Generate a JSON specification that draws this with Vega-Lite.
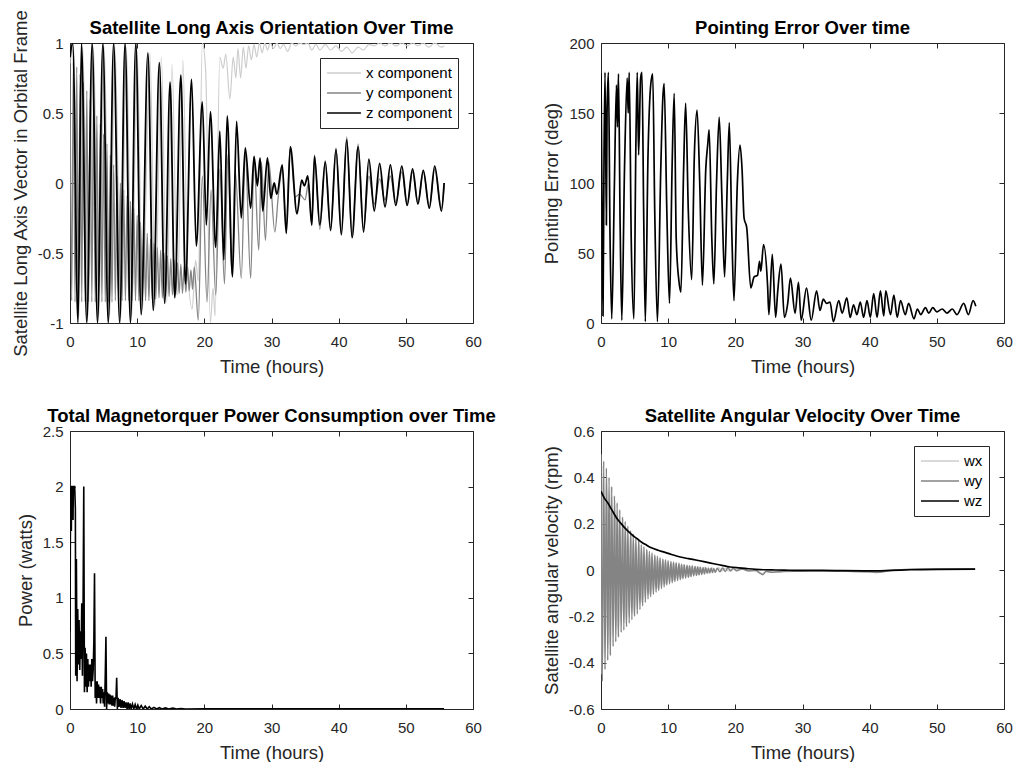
{
"$schema": "https://vega.github.io/schema/vega-lite/v6.json",
"background": "white",
"padding": {"left": 10, "top": 8, "right": 0, "bottom": 0},
"config": {
  "font": "Liberation Sans",
  "view": {"stroke": "#262626", "strokeWidth": 1},
  "axis": {"grid": false, "domain": false, "tickColor": "#262626", "tickSize": -5, "labelColor": "#262626", "labelFontSize": 15, "titleFontSize": 18.5, "titleFontWeight": "normal", "titleColor": "#262626", "labelFlush": false, "labelOverlap": false, "labelExpr": "datum.value < 0 ? '-' + format(-datum.value, '~g') : format(datum.value, '~g')"},
  "axisX": {"labelPadding": 16, "titlePadding": 8},
  "axisY": {"labelPadding": 12, "titlePadding": 7},
  "title": {"fontSize": 18.5, "fontWeight": "bold", "color": "#000000", "offset": -1, "frame": "group"},
  "legend": {"orient": "top-right", "offset": 15, "symbolType": "stroke", "symbolStrokeWidth": 1.5, "labelFontSize": 15, "labelColor": "#000000", "strokeColor": "#262626", "fillColor": "white", "padding": 6, "rowPadding": 2, "clipHeight": 18, "labelOffset": 4}
},
"datasets": {
"tlx": [{"t":0,"v":0.85},{"t":0.55,"v":0.97},{"t":1.35,"v":-0.95},{"t":1.9,"v":0.97},{"t":2.7,"v":-0.95},{"t":3.5,"v":0.97},{"t":4.3,"v":-0.95},{"t":5.1,"v":0.97},{"t":5.9,"v":-0.95},{"t":6.7,"v":0.97},{"t":7.6,"v":-0.95},{"t":8.4,"v":0.97},{"t":9.2,"v":-0.95},{"t":10,"v":0.95},{"t":10.8,"v":-0.9},{"t":11.9,"v":0.93},{"t":12.7,"v":-0.88},{"t":13.6,"v":0.9},{"t":14.4,"v":-0.85},{"t":15.2,"v":0.85},{"t":16,"v":-0.8},{"t":16.8,"v":0.88},{"t":17.5,"v":-0.6},{"t":18.2,"v":-0.9},{"t":18.7,"v":-0.55},{"t":19.1,"v":-0.7},{"t":19.7,"v":1},{"t":20.2,"v":0.8},{"t":20.9,"v":-1},{"t":21.3,"v":-0.75},{"t":21.6,"v":-0.95},{"t":22.3,"v":0.9},{"t":22.8,"v":0.82},{"t":23.2,"v":0.92},{"t":23.8,"v":0.6},{"t":24.3,"v":0.9},{"t":24.7,"v":0.75},{"t":25,"v":0.96},{"t":25.4,"v":0.75},{"t":25.8,"v":0.97},{"t":26.2,"v":0.82},{"t":26.6,"v":0.98},{"t":27,"v":0.88},{"t":27.4,"v":0.99},{"t":27.8,"v":0.9},{"t":28.2,"v":1},{"t":28.6,"v":0.93},{"t":29,"v":1},{"t":29.4,"v":0.95},{"t":29.8,"v":1},{"t":30.3,"v":0.96},{"t":30.8,"v":1},{"t":31.3,"v":0.96},{"t":31.8,"v":0.99},{"t":32.4,"v":0.94},{"t":33,"v":1},{"t":33.6,"v":0.98},{"t":34.2,"v":1},{"t":34.8,"v":0.99},{"t":35.4,"v":1},{"t":36,"v":0.95},{"t":36.6,"v":0.99},{"t":37.2,"v":0.95},{"t":38,"v":0.99},{"t":38.8,"v":0.95},{"t":39.6,"v":0.98},{"t":40.4,"v":0.94},{"t":41.2,"v":0.97},{"t":42,"v":0.93},{"t":42.9,"v":0.97},{"t":43.7,"v":0.95},{"t":44.5,"v":0.99},{"t":45.3,"v":0.98},{"t":46.1,"v":1},{"t":46.9,"v":0.98},{"t":47.7,"v":1},{"t":48.5,"v":0.98},{"t":49.4,"v":1},{"t":50.2,"v":0.98},{"t":51,"v":1},{"t":51.8,"v":0.98},{"t":52.6,"v":1},{"t":53.4,"v":0.97},{"t":54.3,"v":1},{"t":55.3,"v":0.97},{"t":55.7,"v":0.98}],
"tly": [{"t":0,"v":0.88},{"t":0.25,"v":-0.84},{"t":0.5,"v":0.86},{"t":0.75,"v":-0.85},{"t":1,"v":0.83},{"t":1.25,"v":-0.85},{"t":1.5,"v":0.78},{"t":1.75,"v":-0.85},{"t":2,"v":0.72},{"t":2.25,"v":-0.85},{"t":2.5,"v":0.66},{"t":2.75,"v":-0.85},{"t":3,"v":0.6},{"t":3.25,"v":-0.85},{"t":3.5,"v":0.54},{"t":3.75,"v":-0.85},{"t":4,"v":0.48},{"t":4.25,"v":-0.85},{"t":4.5,"v":0.42},{"t":4.75,"v":-0.85},{"t":5,"v":0.35},{"t":5.25,"v":-0.85},{"t":5.5,"v":0.28},{"t":5.75,"v":-0.85},{"t":6,"v":0.2},{"t":6.25,"v":-0.85},{"t":6.5,"v":0.13},{"t":6.75,"v":-0.84},{"t":7,"v":0.05},{"t":7.25,"v":-0.84},{"t":7.5,"v":0},{"t":7.75,"v":-0.84},{"t":8,"v":-0.05},{"t":8.25,"v":-0.84},{"t":8.5,"v":-0.09},{"t":8.75,"v":-0.84},{"t":9,"v":-0.13},{"t":9.25,"v":-0.84},{"t":9.5,"v":-0.18},{"t":9.75,"v":-0.84},{"t":10,"v":-0.23},{"t":10.25,"v":-0.84},{"t":10.5,"v":-0.28},{"t":10.75,"v":-0.84},{"t":11,"v":-0.32},{"t":11.25,"v":-0.84},{"t":11.5,"v":-0.36},{"t":11.75,"v":-0.84},{"t":12,"v":-0.4},{"t":12.25,"v":-0.83},{"t":12.5,"v":-0.43},{"t":12.75,"v":-0.83},{"t":13,"v":-0.46},{"t":13.25,"v":-0.82},{"t":13.5,"v":-0.48},{"t":13.75,"v":-0.82},{"t":14,"v":-0.5},{"t":14.25,"v":-0.81},{"t":14.5,"v":-0.52},{"t":14.75,"v":-0.81},{"t":15,"v":-0.54},{"t":15.25,"v":-0.8},{"t":15.5,"v":-0.55},{"t":15.75,"v":-0.8},{"t":16,"v":-0.57},{"t":16.25,"v":-0.79},{"t":16.5,"v":-0.58},{"t":16.75,"v":-0.79},{"t":17,"v":-0.59},{"t":17.25,"v":-0.78},{"t":17.5,"v":-0.6},{"t":17.75,"v":-0.77},{"t":18,"v":-0.62},{"t":18.25,"v":-0.76},{"t":18.5,"v":-0.6},{"t":19.1,"v":-0.98},{"t":19.7,"v":0.05},{"t":20.4,"v":-0.85},{"t":21,"v":-0.05},{"t":21.7,"v":-0.8},{"t":22.3,"v":0.1},{"t":23,"v":-0.72},{"t":23.5,"v":0.2},{"t":24.1,"v":-0.65},{"t":24.6,"v":0.09},{"t":25.5,"v":-0.68},{"t":26.1,"v":0.2},{"t":26.9,"v":-0.68},{"t":27.4,"v":0.18},{"t":28.1,"v":-0.48},{"t":28.5,"v":0.15},{"t":29.1,"v":-0.41},{"t":29.6,"v":0.15},{"t":30.5,"v":-0.35},{"t":31,"v":-0.1},{"t":31.6,"v":0.1},{"t":32.2,"v":-0.3},{"t":32.8,"v":0.25},{"t":33.5,"v":-0.1},{"t":34.2,"v":-0.08},{"t":35,"v":-0.12},{"t":35.5,"v":0},{"t":36,"v":-0.3},{"t":36.4,"v":0.2},{"t":37.2,"v":-0.33},{"t":38,"v":0.16},{"t":38.8,"v":-0.33},{"t":39.6,"v":0.25},{"t":40.4,"v":-0.36},{"t":41.2,"v":0.33},{"t":42,"v":-0.38},{"t":42.9,"v":0.28},{"t":43.7,"v":-0.33},{"t":44.5,"v":0.05},{"t":45.3,"v":-0.15},{"t":46.1,"v":0.03},{"t":46.9,"v":-0.12},{"t":47.7,"v":0.05},{"t":48.5,"v":-0.14},{"t":49.4,"v":0.08},{"t":50.2,"v":-0.15},{"t":51,"v":0.08},{"t":51.8,"v":-0.14},{"t":52.6,"v":0.08},{"t":53.5,"v":-0.17},{"t":54.3,"v":0.1},{"t":55.3,"v":-0.18},{"t":55.7,"v":-0.02}],
"tlz": [{"t":0,"v":0.9},{"t":0.4,"v":1},{"t":1.2,"v":-1},{"t":1.7,"v":1},{"t":2.5,"v":-1},{"t":3.3,"v":1},{"t":4.1,"v":-1},{"t":4.9,"v":1},{"t":5.7,"v":-1},{"t":6.5,"v":1},{"t":7.4,"v":-1},{"t":8.2,"v":1},{"t":9,"v":-1},{"t":9.8,"v":1},{"t":10.6,"v":-0.94},{"t":11.6,"v":0.93},{"t":12.4,"v":-0.91},{"t":13.3,"v":0.86},{"t":14.1,"v":-0.86},{"t":14.9,"v":0.72},{"t":15.6,"v":-0.82},{"t":16.5,"v":0.77},{"t":17.2,"v":-0.72},{"t":18.1,"v":0.74},{"t":18.8,"v":-0.45},{"t":19.7,"v":0.58},{"t":20.3,"v":-0.3},{"t":20.9,"v":0.51},{"t":21.7,"v":-0.46},{"t":22.3,"v":0.37},{"t":22.9,"v":-0.55},{"t":23.4,"v":0.48},{"t":24.2,"v":-0.67},{"t":24.8,"v":0.44},{"t":25.5,"v":-0.25},{"t":26.1,"v":0.25},{"t":26.9,"v":-0.18},{"t":27.4,"v":0.19},{"t":27.9,"v":-0.02},{"t":28.3,"v":0.18},{"t":28.7,"v":-0.2},{"t":29.4,"v":0.18},{"t":29.9,"v":-0.11},{"t":30.4,"v":0},{"t":30.8,"v":-0.08},{"t":31.6,"v":0.13},{"t":32.2,"v":-0.36},{"t":32.8,"v":0.26},{"t":33.8,"v":-0.22},{"t":34.5,"v":0.02},{"t":34.9,"v":-0.02},{"t":35.4,"v":0.05},{"t":36,"v":-0.3},{"t":36.4,"v":0.19},{"t":37.2,"v":-0.3},{"t":38,"v":0.15},{"t":38.8,"v":-0.34},{"t":39.6,"v":0.24},{"t":40.4,"v":-0.37},{"t":41.2,"v":0.31},{"t":42,"v":-0.39},{"t":42.9,"v":0.26},{"t":43.7,"v":-0.35},{"t":44.5,"v":0.17},{"t":45.3,"v":-0.2},{"t":46.1,"v":0.14},{"t":46.9,"v":-0.17},{"t":47.7,"v":0.13},{"t":48.5,"v":-0.16},{"t":49.4,"v":0.12},{"t":50.2,"v":-0.16},{"t":51,"v":0.1},{"t":51.8,"v":-0.15},{"t":52.6,"v":0.09},{"t":53.5,"v":-0.18},{"t":54.3,"v":0.12},{"t":55.3,"v":-0.2},{"t":55.7,"v":0}],
"tr": [{"t":0,"v":178},{"t":0.2,"v":60},{"t":0.3,"v":5},{"t":0.45,"v":120},{"t":0.6,"v":179},{"t":0.8,"v":70},{"t":0.9,"v":150},{"t":1.1,"v":179},{"t":1.35,"v":60},{"t":1.6,"v":3},{"t":2,"v":100},{"t":2.3,"v":170},{"t":2.45,"v":140},{"t":2.6,"v":178},{"t":2.85,"v":70},{"t":3.1,"v":2},{"t":3.5,"v":110},{"t":3.9,"v":175},{"t":4.05,"v":150},{"t":4.2,"v":179},{"t":4.5,"v":60},{"t":4.9,"v":3},{"t":5.2,"v":130},{"t":5.4,"v":179},{"t":5.6,"v":120},{"t":5.9,"v":175},{"t":6.1,"v":179},{"t":6.35,"v":80},{"t":6.6,"v":1},{"t":7,"v":120},{"t":7.4,"v":170},{"t":7.7,"v":178},{"t":8,"v":80},{"t":8.4,"v":1},{"t":8.9,"v":110},{"t":9.2,"v":160},{"t":9.4,"v":171},{"t":9.8,"v":80},{"t":10.2,"v":14},{"t":10.6,"v":115},{"t":10.9,"v":164},{"t":11.2,"v":60},{"t":11.6,"v":30},{"t":11.9,"v":22},{"t":12.3,"v":110},{"t":12.6,"v":157},{"t":13,"v":80},{"t":13.5,"v":31},{"t":13.9,"v":120},{"t":14.3,"v":152},{"t":14.7,"v":100},{"t":15.1,"v":27},{"t":15.6,"v":110},{"t":15.9,"v":128},{"t":16.1,"v":138},{"t":16.5,"v":60},{"t":16.8,"v":28},{"t":17.2,"v":100},{"t":17.6,"v":147},{"t":18,"v":90},{"t":18.4,"v":33},{"t":18.8,"v":100},{"t":19.1,"v":143},{"t":19.5,"v":60},{"t":19.8,"v":16},{"t":20.3,"v":100},{"t":20.7,"v":127},{"t":21,"v":110},{"t":21.3,"v":75},{"t":21.7,"v":68},{"t":22.3,"v":25},{"t":22.8,"v":33},{"t":23.3,"v":34},{"t":23.6,"v":44},{"t":23.8,"v":37},{"t":24.2,"v":56},{"t":24.8,"v":27},{"t":25,"v":6},{"t":25.5,"v":49},{"t":26,"v":4},{"t":26.3,"v":22},{"t":26.8,"v":42},{"t":27.3,"v":4},{"t":27.8,"v":14},{"t":28.2,"v":32},{"t":28.9,"v":7},{"t":29.4,"v":29},{"t":29.8,"v":2},{"t":30.6,"v":25},{"t":31.3,"v":2},{"t":32.1,"v":23},{"t":32.6,"v":9},{"t":33.1,"v":17},{"t":33.6,"v":14},{"t":34.1,"v":15},{"t":34.6,"v":1},{"t":35.4,"v":16},{"t":35.9,"v":7},{"t":36.6,"v":18},{"t":37.1,"v":4},{"t":37.6,"v":13},{"t":38.1,"v":6},{"t":38.6,"v":15},{"t":39.1,"v":4},{"t":39.6,"v":16},{"t":40.1,"v":4},{"t":40.6,"v":21},{"t":41.1,"v":4},{"t":41.6,"v":23},{"t":42.1,"v":5},{"t":42.4,"v":23},{"t":43.1,"v":6},{"t":43.6,"v":20},{"t":44.1,"v":4},{"t":44.6,"v":16},{"t":45.3,"v":6},{"t":45.8,"v":14},{"t":46.6,"v":3},{"t":47.1,"v":10},{"t":47.6,"v":6},{"t":48.3,"v":11},{"t":48.8,"v":7},{"t":49.4,"v":11},{"t":50,"v":8},{"t":50.8,"v":10},{"t":51.5,"v":7},{"t":52.3,"v":10},{"t":53,"v":6},{"t":54,"v":14},{"t":54.7,"v":6},{"t":55.4,"v":16},{"t":55.8,"v":12}],
"bl": [{"t":0,"v":0.7},{"t":0.05,"v":1.5},{"t":0.1,"v":2},{"t":0.2,"v":1.6},{"t":0.25,"v":2},{"t":0.4,"v":2},{"t":0.45,"v":1.7},{"t":0.5,"v":2},{"t":0.7,"v":2},{"t":0.8,"v":1.8},{"t":0.85,"v":0.3},{"t":0.95,"v":1.35},{"t":1.05,"v":0.25},{"t":1.15,"v":0.9},{"t":1.25,"v":0.4},{"t":1.35,"v":0.8},{"t":1.45,"v":0.35},{"t":1.55,"v":0.7},{"t":1.65,"v":0.45},{"t":1.75,"v":0.95},{"t":1.85,"v":0.3},{"t":1.95,"v":0.95},{"t":2.05,"v":2},{"t":2.15,"v":0.15},{"t":2.25,"v":0.55},{"t":2.35,"v":0.2},{"t":2.45,"v":0.5},{"t":2.55,"v":0.15},{"t":2.65,"v":0.45},{"t":2.75,"v":0.2},{"t":2.85,"v":0.4},{"t":2.95,"v":0.25},{"t":3.05,"v":0.4},{"t":3.15,"v":0.2},{"t":3.25,"v":0.45},{"t":3.35,"v":0.25},{"t":3.45,"v":0.35},{"t":3.55,"v":0.6},{"t":3.65,"v":1.22},{"t":3.75,"v":0.1},{"t":3.85,"v":0.25},{"t":3.95,"v":0.05},{"t":4.05,"v":0.25},{"t":4.15,"v":0.1},{"t":4.25,"v":0.22},{"t":4.35,"v":0.1},{"t":4.45,"v":0.2},{"t":4.55,"v":0.05},{"t":4.65,"v":0.2},{"t":4.75,"v":0.1},{"t":4.85,"v":0.18},{"t":4.95,"v":0.05},{"t":5.05,"v":0.15},{"t":5.15,"v":0.02},{"t":5.25,"v":0.3},{"t":5.35,"v":0.65},{"t":5.45,"v":0},{"t":5.55,"v":0.15},{"t":5.65,"v":0.05},{"t":5.75,"v":0.14},{"t":5.85,"v":0.04},{"t":5.95,"v":0.13},{"t":6.05,"v":0.04},{"t":6.15,"v":0.12},{"t":6.25,"v":0.03},{"t":6.35,"v":0.12},{"t":6.45,"v":0.03},{"t":6.55,"v":0.1},{"t":6.65,"v":0.02},{"t":6.75,"v":0.1},{"t":6.85,"v":0.1},{"t":6.95,"v":0.28},{"t":7.05,"v":0},{"t":7.15,"v":0.1},{"t":7.3,"v":0.02},{"t":7.45,"v":0.09},{"t":7.6,"v":0.01},{"t":7.75,"v":0.08},{"t":7.9,"v":0.01},{"t":8.05,"v":0.07},{"t":8.2,"v":0.01},{"t":8.35,"v":0.06},{"t":8.5,"v":0},{"t":8.65,"v":0.06},{"t":8.8,"v":0},{"t":8.95,"v":0.05},{"t":9.1,"v":0},{"t":9.3,"v":0.045},{"t":9.5,"v":0},{"t":9.7,"v":0.04},{"t":9.9,"v":0},{"t":10.1,"v":0.035},{"t":10.3,"v":0},{"t":10.6,"v":0.03},{"t":10.9,"v":0},{"t":11.2,"v":0.025},{"t":11.5,"v":0},{"t":11.8,"v":0.02},{"t":12.1,"v":0},{"t":12.5,"v":0.015},{"t":12.9,"v":0},{"t":13.3,"v":0.012},{"t":13.7,"v":0},{"t":14.2,"v":0.01},{"t":14.7,"v":0},{"t":15.3,"v":0.008},{"t":15.9,"v":0},{"t":16.5,"v":0.005},{"t":17.2,"v":0},{"t":20,"v":0.002},{"t":30,"v":0.001},{"t":40,"v":0.001},{"t":55.7,"v":0.001}],
"brx": [{"t":0,"v":-0.45},{"t":0.3,"v":0.45},{"t":0.6,"v":-0.4},{"t":0.9,"v":0.4},{"t":1.2,"v":-0.36},{"t":1.5,"v":0.36},{"t":1.8,"v":-0.31},{"t":2.1,"v":0.3},{"t":2.4,"v":-0.28},{"t":2.7,"v":0.26},{"t":3,"v":-0.25},{"t":3.3,"v":0.22},{"t":3.6,"v":-0.23},{"t":3.9,"v":0.18},{"t":4.2,"v":-0.21},{"t":4.5,"v":0.16},{"t":4.8,"v":-0.19},{"t":5.1,"v":0.13},{"t":5.4,"v":-0.17},{"t":5.7,"v":0.12},{"t":6,"v":-0.14},{"t":6.3,"v":0.1},{"t":6.6,"v":-0.12},{"t":6.9,"v":0.085},{"t":7.2,"v":-0.105},{"t":7.5,"v":0.07},{"t":7.8,"v":-0.09},{"t":8.1,"v":0.06},{"t":8.4,"v":-0.08},{"t":8.7,"v":0.05},{"t":9,"v":-0.07},{"t":9.3,"v":0.045},{"t":9.6,"v":-0.06},{"t":9.9,"v":0.04},{"t":10.2,"v":-0.05},{"t":10.5,"v":0.035},{"t":10.8,"v":-0.045},{"t":11.1,"v":0.03},{"t":11.4,"v":-0.04},{"t":11.7,"v":0.027},{"t":12,"v":-0.035},{"t":12.3,"v":0.023},{"t":12.6,"v":-0.03},{"t":12.9,"v":0.02},{"t":13.2,"v":-0.027},{"t":13.5,"v":0.017},{"t":13.8,"v":-0.023},{"t":14.1,"v":0.015},{"t":14.4,"v":-0.02},{"t":14.7,"v":0.013},{"t":15,"v":-0.017},{"t":15.5,"v":0.012},{"t":16,"v":-0.012},{"t":16.5,"v":0.01},{"t":17,"v":-0.008},{"t":17.5,"v":0.01},{"t":18,"v":-0.005},{"t":18.5,"v":0.008},{"t":19,"v":-0.004},{"t":19.5,"v":0.006},{"t":20,"v":0},{"t":21,"v":0.004},{"t":22,"v":-0.002},{"t":23,"v":-0.006},{"t":24,"v":-0.015},{"t":24.5,"v":-0.008},{"t":26,"v":-0.01},{"t":28,"v":-0.004},{"t":30,"v":-0.006},{"t":32,"v":-0.005},{"t":35,"v":-0.006},{"t":38,"v":-0.007},{"t":40,"v":-0.009},{"t":41,"v":-0.012},{"t":42,"v":-0.006},{"t":44,"v":0},{"t":47,"v":0.003},{"t":50,"v":0.004},{"t":55.7,"v":0.004}],
"bry": [{"t":0,"v":0.5},{"t":0.2,"v":-0.48},{"t":0.4,"v":0.47},{"t":0.6,"v":-0.43},{"t":0.8,"v":0.44},{"t":1,"v":-0.39},{"t":1.2,"v":0.4},{"t":1.4,"v":-0.37},{"t":1.6,"v":0.36},{"t":1.8,"v":-0.33},{"t":2,"v":0.32},{"t":2.2,"v":-0.31},{"t":2.4,"v":0.29},{"t":2.6,"v":-0.29},{"t":2.8,"v":0.26},{"t":3,"v":-0.27},{"t":3.2,"v":0.23},{"t":3.4,"v":-0.26},{"t":3.6,"v":0.21},{"t":3.8,"v":-0.245},{"t":4,"v":0.19},{"t":4.2,"v":-0.23},{"t":4.4,"v":0.17},{"t":4.6,"v":-0.215},{"t":4.8,"v":0.155},{"t":5,"v":-0.2},{"t":5.2,"v":0.14},{"t":5.4,"v":-0.19},{"t":5.6,"v":0.13},{"t":5.8,"v":-0.17},{"t":6,"v":0.11},{"t":6.2,"v":-0.155},{"t":6.4,"v":0.1},{"t":6.6,"v":-0.14},{"t":6.8,"v":0.09},{"t":7,"v":-0.125},{"t":7.2,"v":0.081},{"t":7.4,"v":-0.115},{"t":7.6,"v":0.073},{"t":7.8,"v":-0.105},{"t":8,"v":0.065},{"t":8.2,"v":-0.096},{"t":8.4,"v":0.059},{"t":8.6,"v":-0.088},{"t":8.8,"v":0.053},{"t":9,"v":-0.08},{"t":9.2,"v":0.048},{"t":9.4,"v":-0.073},{"t":9.6,"v":0.044},{"t":9.8,"v":-0.066},{"t":10,"v":0.04},{"t":10.2,"v":-0.06},{"t":10.4,"v":0.037},{"t":10.6,"v":-0.055},{"t":10.8,"v":0.034},{"t":11,"v":-0.05},{"t":11.2,"v":0.031},{"t":11.4,"v":-0.046},{"t":11.6,"v":0.029},{"t":11.8,"v":-0.042},{"t":12,"v":0.025},{"t":12.2,"v":-0.038},{"t":12.4,"v":0.023},{"t":12.6,"v":-0.035},{"t":12.8,"v":0.02},{"t":13,"v":-0.032},{"t":13.2,"v":0.018},{"t":13.4,"v":-0.029},{"t":13.6,"v":0.017},{"t":13.8,"v":-0.026},{"t":14,"v":0.015},{"t":14.2,"v":-0.024},{"t":14.4,"v":0.014},{"t":14.6,"v":-0.021},{"t":14.8,"v":0.012},{"t":15,"v":-0.019},{"t":15.2,"v":0.011},{"t":15.4,"v":-0.017},{"t":15.6,"v":0.01},{"t":15.8,"v":-0.015},{"t":16,"v":0.009},{"t":16.2,"v":-0.013},{"t":16.4,"v":0.008},{"t":16.6,"v":-0.011},{"t":16.8,"v":0.007},{"t":17,"v":-0.01},{"t":17.3,"v":0.008},{"t":17.7,"v":-0.008},{"t":18.1,"v":0.009},{"t":18.5,"v":-0.006},{"t":18.9,"v":0.01},{"t":19.3,"v":-0.004},{"t":19.7,"v":0.008},{"t":20.2,"v":-0.003},{"t":21,"v":0.004},{"t":22,"v":-0.004},{"t":23,"v":0},{"t":23.6,"v":-0.012},{"t":24.1,"v":-0.02},{"t":24.6,"v":-0.005},{"t":25.5,"v":-0.01},{"t":27,"v":-0.006},{"t":30,"v":-0.005},{"t":33,"v":-0.004},{"t":36,"v":-0.005},{"t":40,"v":-0.008},{"t":41,"v":-0.01},{"t":43,"v":-0.003},{"t":46,"v":0.003},{"t":50,"v":0.004},{"t":55.7,"v":0.004}],
"brz": [{"t":0,"v":0.34},{"t":0.5,"v":0.31},{"t":1,"v":0.29},{"t":1.5,"v":0.265},{"t":1.9,"v":0.245},{"t":2.1,"v":0.235},{"t":2.4,"v":0.221},{"t":3,"v":0.2},{"t":3.5,"v":0.183},{"t":3.9,"v":0.171},{"t":4.5,"v":0.155},{"t":5,"v":0.143},{"t":5.4,"v":0.135},{"t":6,"v":0.121},{"t":6.8,"v":0.107},{"t":7.5,"v":0.096},{"t":8.5,"v":0.085},{"t":9.3,"v":0.078},{"t":10.5,"v":0.067},{"t":11.8,"v":0.056},{"t":13,"v":0.049},{"t":14.3,"v":0.042},{"t":15.5,"v":0.035},{"t":16.8,"v":0.027},{"t":18,"v":0.02},{"t":19.2,"v":0.013},{"t":20.5,"v":0.009},{"t":21.7,"v":0.006},{"t":23,"v":0.003},{"t":24.2,"v":0.001},{"t":26,"v":0},{"t":28,"v":-0.001},{"t":30,"v":-0.002},{"t":33,"v":-0.002},{"t":36,"v":-0.003},{"t":40,"v":-0.004},{"t":43,"v":-0.002},{"t":46,"v":0.001},{"t":50,"v":0.003},{"t":55.7,"v":0.004}]
},
"columns": 2,
"spacing": {"row": 30, "column": 44},
"resolve": {"scale": {"color": "independent"}, "legend": {"color": "independent"}},
"concat": [
{
 "width": 403, "height": 280,
 "title": {"text": "Satellite Long Axis Orientation Over Time", "dy": 27},
 "resolve": {"axis": {"x": "independent", "y": "independent"}},
 "layer": [
  {"data": {"name": "tlx"}, "mark": {"type": "line", "interpolate": "monotone", "strokeWidth": 1.2, "clip": true},
   "encoding": {
    "x": {"field": "t", "type": "quantitative", "scale": {"domain": [0, 60], "nice": false}, "axis": {"title": "Time (hours)", "values": [0,10,20,30,40,50,60]}},
    "y": {"field": "v", "type": "quantitative", "scale": {"domain": [-1, 1], "nice": false, "zero": false}, "axis": {"title": "Satellite Long Axis Vector in Orbital Frame", "values": [-1,-0.5,0,0.5,1]}},
    "color": {"datum": "x component", "type": "nominal", "scale": {"domain": ["x component", "y component", "z component"], "range": ["#cdcdcd", "#848484", "#000000"]}, "legend": {"title": null, "symbolSize": 1150}}}},
  {"data": {"name": "tly"}, "mark": {"type": "line", "interpolate": "monotone", "strokeWidth": 1.3, "clip": true},
   "encoding": {
    "x": {"field": "t", "type": "quantitative", "axis": null},
    "y": {"field": "v", "type": "quantitative", "axis": null},
    "color": {"datum": "y component", "type": "nominal"}}},
  {"data": {"name": "tlz"}, "mark": {"type": "line", "interpolate": "monotone", "strokeWidth": 1.8, "clip": true},
   "encoding": {
    "x": {"field": "t", "type": "quantitative", "axis": null},
    "y": {"field": "v", "type": "quantitative", "axis": null},
    "color": {"datum": "z component", "type": "nominal"}}},
  {"data": {"name": "tlz"}, "mark": {"type": "point", "opacity": 0},
   "encoding": {
    "x": {"field": "t", "type": "quantitative", "axis": {"orient": "top", "labels": false, "title": null, "values": [0,10,20,30,40,50,60]}},
    "y": {"field": "v", "type": "quantitative", "axis": {"orient": "right", "labels": false, "title": null, "values": [-1,-0.5,0,0.5,1]}}}}
 ]
},
{
 "width": 403, "height": 280,
 "title": {"text": "Pointing Error Over time"},
 "resolve": {"axis": {"x": "independent", "y": "independent"}},
 "layer": [
  {"data": {"name": "tr"}, "mark": {"type": "line", "interpolate": "monotone", "strokeWidth": 1.7, "color": "#000000", "clip": true},
   "encoding": {
    "x": {"field": "t", "type": "quantitative", "scale": {"domain": [0, 60], "nice": false}, "axis": {"title": "Time (hours)", "values": [0,10,20,30,40,50,60]}},
    "y": {"field": "v", "type": "quantitative", "scale": {"domain": [0, 200], "nice": false}, "axis": {"title": "Pointing Error (deg)", "values": [0,50,100,150,200]}}}},
  {"data": {"name": "tr"}, "mark": {"type": "point", "opacity": 0},
   "encoding": {
    "x": {"field": "t", "type": "quantitative", "axis": {"orient": "top", "labels": false, "title": null, "values": [0,10,20,30,40,50,60]}},
    "y": {"field": "v", "type": "quantitative", "axis": {"orient": "right", "labels": false, "title": null, "values": [0,50,100,150,200]}}}}
 ]
},
{
 "width": 403, "height": 278,
 "title": {"text": "Total Magnetorquer Power Consumption over Time"},
 "resolve": {"axis": {"x": "independent", "y": "independent"}},
 "layer": [
  {"data": {"name": "bl"}, "mark": {"type": "line", "strokeWidth": 1.6, "color": "#000000", "clip": true},
   "encoding": {
    "x": {"field": "t", "type": "quantitative", "scale": {"domain": [0, 60], "nice": false}, "axis": {"title": "Time (hours)", "values": [0,10,20,30,40,50,60]}},
    "y": {"field": "v", "type": "quantitative", "scale": {"domain": [0, 2.5], "nice": false}, "axis": {"title": "Power (watts)", "values": [0,0.5,1,1.5,2,2.5]}}}},
  {"data": {"name": "bl"}, "mark": {"type": "point", "opacity": 0},
   "encoding": {
    "x": {"field": "t", "type": "quantitative", "axis": {"orient": "top", "labels": false, "title": null, "values": [0,10,20,30,40,50,60]}},
    "y": {"field": "v", "type": "quantitative", "axis": {"orient": "right", "labels": false, "title": null, "values": [0,0.5,1,1.5,2,2.5]}}}}
 ]
},
{
 "width": 403, "height": 278,
 "title": {"text": "Satellite Angular Velocity Over Time"},
 "resolve": {"axis": {"x": "independent", "y": "independent"}},
 "layer": [
  {"data": {"name": "brx"}, "mark": {"type": "line", "interpolate": "monotone", "strokeWidth": 1.2, "clip": true},
   "encoding": {
    "x": {"field": "t", "type": "quantitative", "scale": {"domain": [0, 60], "nice": false}, "axis": {"title": "Time (hours)", "values": [0,10,20,30,40,50,60]}},
    "y": {"field": "v", "type": "quantitative", "scale": {"domain": [-0.6, 0.6], "nice": false, "zero": false}, "axis": {"title": "Satellite angular velocity (rpm)", "values": [-0.6,-0.4,-0.2,0,0.2,0.4,0.6]}},
    "color": {"datum": "wx", "type": "nominal", "scale": {"domain": ["wx", "wy", "wz"], "range": ["#cdcdcd", "#848484", "#000000"]}, "legend": {"title": null, "symbolSize": 1450}}}},
  {"data": {"name": "bry"}, "mark": {"type": "line", "interpolate": "monotone", "strokeWidth": 1.5, "clip": true},
   "encoding": {
    "x": {"field": "t", "type": "quantitative", "axis": null},
    "y": {"field": "v", "type": "quantitative", "axis": null},
    "color": {"datum": "wy", "type": "nominal"}}},
  {"data": {"name": "brz"}, "mark": {"type": "line", "interpolate": "monotone", "strokeWidth": 1.7, "clip": true},
   "encoding": {
    "x": {"field": "t", "type": "quantitative", "axis": null},
    "y": {"field": "v", "type": "quantitative", "axis": null},
    "color": {"datum": "wz", "type": "nominal"}}},
  {"data": {"name": "brz"}, "mark": {"type": "point", "opacity": 0},
   "encoding": {
    "x": {"field": "t", "type": "quantitative", "axis": {"orient": "top", "labels": false, "title": null, "values": [0,10,20,30,40,50,60]}},
    "y": {"field": "v", "type": "quantitative", "axis": {"orient": "right", "labels": false, "title": null, "values": [-0.6,-0.4,-0.2,0,0.2,0.4,0.6]}}}}
 ]
}
]
}
